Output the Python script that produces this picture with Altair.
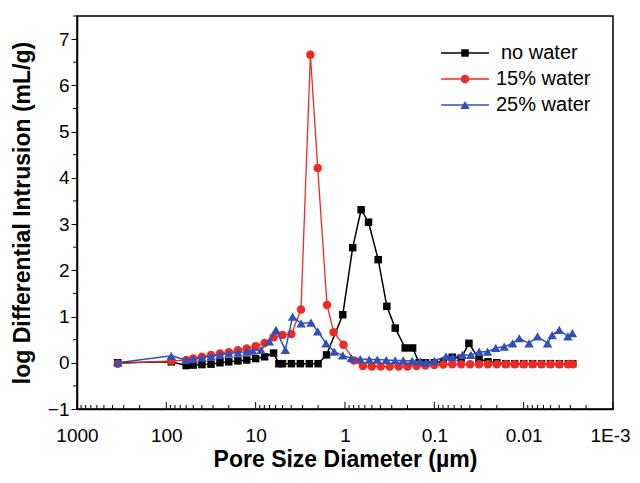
import altair as alt
import pandas as pd

series_names = ["no water", "15% water", "25% water"]
series_colors = ["#000000", "#ee2a24", "#3350b8"]
series_shapes = ["square", "circle", "triangle-up"]

# pore size diameter (um) and log differential intrusion (mL/g)
nw_d = [350, 88, 60, 50, 40, 31.6, 25.1, 20, 15.8, 12.6, 10, 7.94, 6.31, 5.5, 5.01, 3.98,
        3.16, 2.51, 2.0, 1.61, 1.06, 0.82, 0.66, 0.545, 0.425, 0.34, 0.274, 0.212, 0.175,
        0.148, 0.126, 0.1, 0.0794, 0.0631, 0.0501, 0.041, 0.0316, 0.0251, 0.02, 0.0158,
        0.0126, 0.01, 0.00794, 0.00631, 0.00501, 0.00398, 0.00316, 0.00282]
nw_v = [0.0, 0.02, -0.06, -0.05, -0.04, -0.03, 0.0, 0.02, 0.04, 0.06, 0.09, 0.13, 0.21, -0.02,
        -0.02, -0.02, -0.02, -0.02, -0.02, 0.17, 1.04, 2.49, 3.31, 3.04, 2.23, 1.22, 0.75,
        0.32, 0.32, 0.0, 0.0, 0.0, 0.02, 0.12, 0.1, 0.42, 0.08, 0.02, 0.0, -0.02, -0.02,
        -0.02, -0.02, -0.02, -0.02, -0.02, -0.02, -0.02]

w15_d = [350, 88, 60, 50, 40, 31.6, 25.1, 20, 15.8, 12.6, 10, 7.94, 6.31, 5.01, 3.98, 3.11,
         2.44, 2.02, 1.59, 1.34, 1.04, 0.794, 0.631, 0.501, 0.398, 0.316, 0.251, 0.2, 0.158,
         0.126, 0.1, 0.0794, 0.0631, 0.0501, 0.0398, 0.0316, 0.0251, 0.02, 0.0158, 0.0126,
         0.01, 0.00794, 0.00631, 0.00501, 0.00398, 0.00316, 0.00282]
w15_v = [-0.02, 0.04, 0.06, 0.09, 0.13, 0.17, 0.2, 0.23, 0.27, 0.31, 0.36, 0.43, 0.55, 0.6,
         0.62, 1.15, 6.66, 4.21, 1.25, 0.66, 0.39, 0.05, -0.07, -0.08, -0.08, -0.08, -0.08,
         -0.08, -0.07, -0.06, -0.05, -0.04, -0.03, -0.03, -0.03, -0.03, -0.03, -0.03, -0.03,
         -0.03, -0.03, -0.03, -0.03, -0.03, -0.03, -0.03, -0.03]

w25_d = [350, 88, 60, 50, 40, 31.6, 25.1, 20, 15.8, 12.6, 10.8, 8.71, 7.03, 5.92, 4.66, 3.86,
         3.10, 2.40, 2.02, 1.63, 1.32, 1.06, 0.85, 0.675, 0.535, 0.435, 0.345, 0.274, 0.223,
         0.177, 0.144, 0.124, 0.1, 0.074, 0.0625, 0.0484, 0.039, 0.0315, 0.0254, 0.0205,
         0.0165, 0.0133, 0.0112, 0.0087, 0.0070, 0.0054, 0.0048, 0.0040, 0.0032, 0.00285]
w25_v = [0.0, 0.15, 0.06, 0.08, 0.11, 0.14, 0.17, 0.2, 0.22, 0.24, 0.26, 0.28, 0.46, 0.71,
         0.28, 1.0, 0.85, 0.87, 0.68, 0.42, 0.24, 0.16, 0.1, 0.08, 0.07, 0.07, 0.06, 0.05,
         0.05, 0.04, 0.03, 0.01, 0.04, 0.14, 0.12, 0.17, 0.17, 0.24, 0.24, 0.32, 0.35, 0.42,
         0.53, 0.42, 0.57, 0.42, 0.6, 0.71, 0.57, 0.64]

x_major = [1000, 100, 10, 1, 0.1, 0.01, 0.001]
y_major = [-1, 0, 1, 2, 3, 4, 5, 6, 7]
y_minor = [-0.5, 0.5, 1.5, 2.5, 3.5, 4.5, 5.5, 6.5, 7.5]
x_minor = [m * 10.0 ** e for e in range(-3, 3) for m in range(2, 10)]

W, H = 536, 393
FONT = "Liberation Sans"

xscale = alt.Scale(type="log", domain=[0.001, 1000], reverse=True, nice=False)
yscale = alt.Scale(domain=[-1, 7.5], nice=False, zero=False)

x_axis = alt.Axis(values=x_major, labelExpr="datum.value < 0.005 ? '1E-3' : format(datum.value, '~g')",
                  title="Pore Size Diameter (µm)", ticks=False, labelPadding=17, labelFlush=False,
                  labelOffset={"condition": {"test": "datum.value < 0.005", "value": -3}, "value": 0},
                  labelOverlap=False, grid=False, titlePadding=3)
y_axis = alt.Axis(values=y_major, title="log Differential Intrusion (mL/g)", tickSize=6,
                  labelPadding=2, labelFlush=False, grid=False, titlePadding=13)


def X(field):
    return alt.X(field, scale=xscale, axis=x_axis)


def Y(field):
    return alt.Y(field, scale=yscale, axis=y_axis)


series_data = [(nw_d, nw_v), (w15_d, w15_v), (w25_d, w25_v)]
sizes = [56, 72, 90]
widths = [1.5, 1.3, 1.5]

layers = []
for i, (name, (ds, vs)) in enumerate(zip(series_names, series_data)):
    df = pd.DataFrame({"d": ds, "v": vs, "series": name})
    base = alt.Chart(df).encode(x=X("d:Q"), y=Y("v:Q"))
    layers.append(base.mark_line(color=series_colors[i], strokeWidth=widths[i]))
    layers.append(base.mark_point(shape=series_shapes[i], filled=True, opacity=1,
                                  size=sizes[i], color=series_colors[i]))

# inner x ticks (major and minor)
xt_major = alt.Chart(pd.DataFrame({"t": x_major})).mark_rule(color="black", strokeWidth=1).encode(
    x=X("t:Q"), y=alt.value(H), y2=alt.value(H - 7))
xt_minor = alt.Chart(pd.DataFrame({"t": x_minor})).mark_rule(color="black", strokeWidth=1).encode(
    x=X("t:Q"), y=alt.value(H), y2=alt.value(H - 4))
yt_minor = alt.Chart(pd.DataFrame({"t": y_minor})).mark_rule(color="black", strokeWidth=1).encode(
    y=Y("t:Q"), x=alt.value(0), x2=alt.value(-4))
layers += [xt_major, xt_minor, yt_minor]

# legend
leg_y = [37, 63, 89]
leg_tx = [424, 419, 419]
for i, name in enumerate(series_names):
    one = pd.DataFrame({"label": [name]})
    layers.append(alt.Chart(one).mark_rule(color=series_colors[i], strokeWidth=1.5).encode(
        x=alt.value(364), x2=alt.value(412), y=alt.value(leg_y[i])))
    layers.append(alt.Chart(one).mark_point(shape=series_shapes[i], filled=True, opacity=1,
                                            size=sizes[i], color=series_colors[i]).encode(
        x=alt.value(388), y=alt.value(leg_y[i])))
    layers.append(alt.Chart(one).mark_text(align="left", baseline="middle", fontSize=20,
                                           font=FONT, color="black").encode(
        x=alt.value(leg_tx[i]), y=alt.value(leg_y[i]), text="label:N"))

chart = alt.layer(*layers).properties(
    width=W, height=H,
    padding={"left": 69, "top": 8, "right": 17, "bottom": 66},
    autosize=alt.AutoSizeParams(type="none"),
).configure_view(stroke="black", strokeWidth=1.5).configure_axis(
    domainColor="black", domainWidth=1.5, tickColor="black", tickWidth=1,
    labelFont=FONT, labelFontSize=19, labelColor="black",
    titleFont=FONT, titleFontSize=23, titleFontWeight="bold", titleColor="black",
)

chart.save("out.html", embed_options={"renderer": "svg", "actions": False})
